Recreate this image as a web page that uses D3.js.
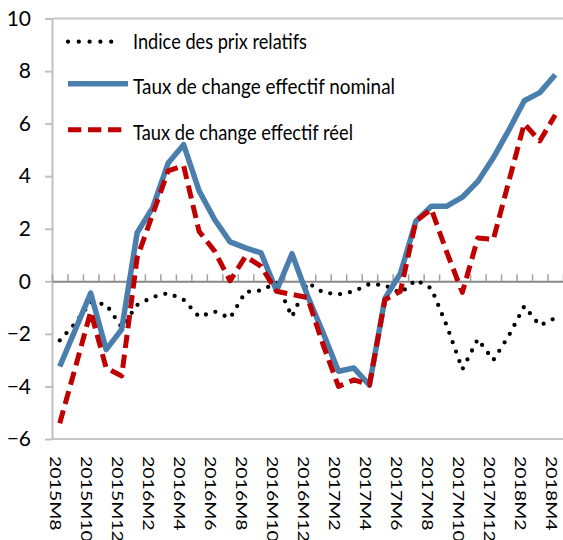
<!DOCTYPE html>
<html>
<head>
<meta charset="utf-8">
<script src="https://cdn.jsdelivr.net/npm/d3@7"></script>
<style>
body { margin: 0; background: #fff; }
svg { display: block; font-family: Lato, "Open Sans", sans-serif; }
</style>
</head>
<body>
<svg id="chart" width="563" height="540"></svg>
<script>
// monthly observations, 2015M8 .. 2018M4
var months = ["2015M8", "2015M9", "2015M10", "2015M11", "2015M12",
	"2016M1", "2016M2", "2016M3", "2016M4", "2016M5", "2016M6", "2016M7", "2016M8", "2016M9", "2016M10", "2016M11", "2016M12",
	"2017M1", "2017M2", "2017M3", "2017M4", "2017M5", "2017M6", "2017M7", "2017M8", "2017M9", "2017M10", "2017M11", "2017M12",
	"2018M1", "2018M2", "2018M3", "2018M4"];

var prixRelatifs = [-2.25, -1.6, -0.8, -0.88, -1.75, -0.9, -0.6, -0.45, -0.7, -1.35, -1.15, -1.4, -0.4, -0.35, -0.05, -1.35, -0.05,
	-0.42, -0.5, -0.38, -0.1, -0.15, -0.45, 0.05, -0.27, -1.7, -3.35, -2.2, -3.0, -2.07, -0.95, -1.68, -1.4];

var tceNominal = [-3.24, -1.85, -0.45, -2.6, -1.83, 1.85, 2.8, 4.5, 5.2, 3.44, 2.35, 1.5, 1.27, 1.08, -0.36, 1.05, -0.55,
	-1.95, -3.42, -3.3, -3.95, -0.65, 0.3, 2.29, 2.86, 2.86, 3.2, 3.8, 4.7, 5.75, 6.87, 7.18, 7.86];

var tceReel = [-5.4, -3.3, -1.15, -3.3, -3.6, 0.9, 2.55, 4.2, 4.4, 1.9, 1.15, 0.02, 0.95, 0.57, -0.38, -0.5, -0.62,
	-2.4, -4.0, -3.75, -3.94, -0.7, -0.38, 2.29, 2.74, 1.1, -0.42, 1.65, 1.59, 3.8, 6.0, 5.34, 6.33];

var yTicks = [-6, -4, -2, 0, 2, 4, 6, 8, 10];

var legendLabels = ["Indice des prix relatifs", "Taux de change effectif nominal", "Taux de change effectif réel"];

var svg = d3.select("#chart");

var plotLeft = 52, plotRight = 563, plotTop = 18.5, plotBottom = 439;

var x = d3.scaleBand()
	.domain(months)
	.range([plotLeft, plotRight]);
var xEdge = d3.scaleLinear()
	.domain([0, months.length])
	.range([plotLeft, plotRight]);
var y = d3.scaleLinear()
	.domain([-6, 10])
	.range([plotBottom, plotTop]);

// plot area frame (top / bottom)
svg.append("line")
	.attr("x1", plotLeft).attr("x2", plotRight)
	.attr("y1", plotTop).attr("y2", plotTop)
	.attr("stroke", "#c6c6c6").attr("stroke-width", 2);
svg.append("line")
	.attr("x1", plotLeft).attr("x2", plotRight)
	.attr("y1", plotBottom).attr("y2", plotBottom)
	.attr("stroke", "#c6c6c6").attr("stroke-width", 2);

// y axis
var yAxis = svg.append("g")
	.attr("transform", "translate(" + plotLeft + ",0)")
	.call(d3.axisLeft(y).tickValues(yTicks).tickSize(7).tickSizeOuter(0).tickPadding(14));
yAxis.select(".domain").attr("stroke", "#c0c0c0").attr("stroke-width", 2);
yAxis.selectAll(".tick line").attr("stroke", "#c0c0c0").attr("stroke-width", 2);
yAxis.selectAll(".tick text")
	.attr("font-size", 21)
	.attr("fill", "#000")
	.style("font-family", "Lato, 'Open Sans', sans-serif");

// zero line with category ticks
var zeroAxis = svg.append("g")
	.attr("transform", "translate(0," + y(0) + ")")
	.call(d3.axisTop(xEdge).tickValues(d3.range(0, months.length + 1)).tickSize(7).tickSizeOuter(0).tickFormat(""));
zeroAxis.select(".domain").attr("stroke", "#878787").attr("stroke-width", 2);
zeroAxis.selectAll(".tick line").attr("stroke", "#a0a0a0").attr("stroke-width", 1.5);

// category labels, every second month, rotated
svg.append("g")
	.selectAll("text")
	.data(months.filter(function(d, i) { return i % 2 == 0; }))
	.enter()
	.append("text")
	.attr("transform", function(d) {
		return "translate(" + (x(d) + x.bandwidth() / 2 - 4.5) + ",456) rotate(90) scale(1.3,1)";
	})
	.attr("dy", "0.35em")
	.attr("font-size", 15)
	.attr("fill", "#000")
	.text(function(d) { return d; });

var line = d3.line()
	.x(function(d, i) { return x(months[i]) + x.bandwidth() / 2; })
	.y(function(d) { return y(d); });

svg.append("path")
	.datum(prixRelatifs)
	.attr("d", line)
	.attr("fill", "none")
	.attr("stroke", "#000")
	.attr("stroke-width", 4.3)
	.attr("stroke-linecap", "round")
	.attr("stroke-dasharray", "0,10");

svg.append("path")
	.datum(tceNominal)
	.attr("d", line)
	.attr("fill", "none")
	.attr("stroke", "#4a7ead")
	.attr("stroke-width", 5.5)
	.attr("stroke-linejoin", "round");

svg.append("path")
	.datum(tceReel)
	.attr("d", line)
	.attr("fill", "none")
	.attr("stroke", "#c00000")
	.attr("stroke-width", 5)
	.attr("stroke-linejoin", "round")
	.attr("stroke-dasharray", "13.3,6.7");

// legend
var legendStyles = [
	{"stroke": "#000", "width": 4.3, "dash": "0,10.8", "cap": "round", "x2": 122, "y": 41.7, "base": 49.3, "len": 174},
	{"stroke": "#4a7ead", "width": 5.5, "dash": null, "cap": "butt", "x2": 128, "y": 83.7, "base": 94, "len": 262},
	{"stroke": "#c00000", "width": 5, "dash": "13.3,6.7", "cap": "butt", "x2": 122, "y": 129.7, "base": 140, "len": 220}
];

var legend = svg.append("g");
legendLabels.forEach(function(label, i) {
	var s = legendStyles[i];
	legend.append("line")
		.attr("x1", 68).attr("x2", s.x2)
		.attr("y1", s.y).attr("y2", s.y)
		.attr("stroke", s.stroke)
		.attr("stroke-width", s.width)
		.attr("stroke-linecap", s.cap)
		.attr("stroke-dasharray", s.dash);
	legend.append("text")
		.attr("x", 133)
		.attr("y", s.base)
		.attr("font-size", 21)
		.attr("textLength", s.len)
		.attr("lengthAdjust", "spacingAndGlyphs")
		.attr("fill", "#000")
		.text(label);
});
</script>
</body>
</html>
